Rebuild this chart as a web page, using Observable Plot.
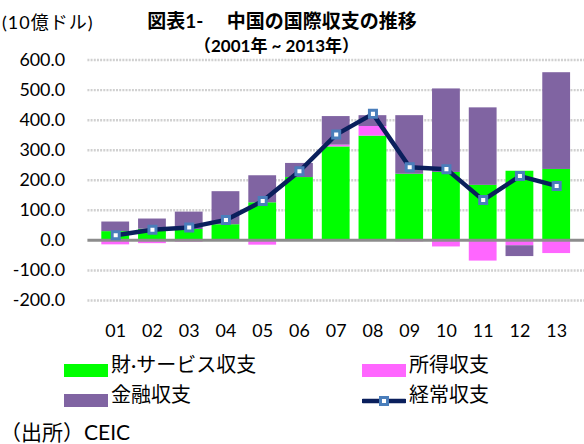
<!DOCTYPE html>
<html><head><meta charset="utf-8">
<script src="https://cdn.jsdelivr.net/npm/d3@7"></script>
<script src="https://cdn.jsdelivr.net/npm/@observablehq/plot@0.6"></script>
<style>
body{margin:0;width:584px;height:444px;overflow:hidden;position:relative;background:#fff;font-family:Lato,"Noto Sans CJK JP",sans-serif;color:#000}
.abs{position:absolute;white-space:nowrap;line-height:1}
</style></head><body>
<div id="chart" class="abs" style="left:0;top:0"></div>
<div class="abs" style="left:2px;top:13px;font-size:18px;letter-spacing:1px">(10億ドル)</div>
<div class="abs" style="left:0;width:564px;text-align:center;top:11px;font-size:19px;font-weight:bold">図表1- 　中国の国際収支の推移</div>
<div class="abs" style="left:0;width:553px;text-align:center;top:37px;font-size:17px;font-weight:bold">（2001年 ~ 2013年）</div>
<div id="legend"></div>
<div class="abs" style="left:0;top:421px;font-size:21px">（出所）CEIC</div>
<script>
const years = ["01","02","03","04","05","06","07","08","09","10","11","12","13"];
const goodsServices = [29, 37, 36, 52, 125, 209, 311, 347, 220, 226, 183, 230, 236];
const income = [-15, -11, -6, -3, -16, -3, 6, 32, -5, -22, -69, -18, -44];
const financial = [32, 34, 58, 110, 90, 47, 95, 36, 195, 278, 258, -36, 322];
const currentAccount = [17, 35, 43, 68, 131, 230, 352, 421, 243, 237, 134, 214, 181];
const seriesNames = ["財·サービス収支", "所得収支", "金融収支"];
const lineName = "経常収支";
const seriesColors = ["#00ff00", "#ff66ff", "#8064a2"];
const lineColor = "#0a1f5c";
const markerColor = "#4a7ebb";
const yTicks = [-200, -100, 0, 100, 200, 300, 400, 500, 600];

const rows = [];
[goodsServices, income, financial].forEach((arr, i) =>
  arr.forEach((v, j) => rows.push({year: years[j], type: seriesNames[i], value: v})));
const lineData = years.map((y, i) => ({year: y, value: currentAccount[i]}));

const chart = Plot.plot({
  width: 588, height: 345,
  marginTop: 60, marginBottom: 43, marginLeft: 88, marginRight: 0,
  style: {fontFamily: 'Lato, "Noto Sans CJK JP", sans-serif', fontSize: "18px", color: "#000", background: "transparent", overflow: "visible"},
  x: {domain: years, padding: 0.25, axis: null, label: null},
  y: {domain: [-200, 600], axis: null, label: null},
  color: {domain: seriesNames, range: seriesColors},
  marks: [
    Plot.gridY(yTicks.filter(d => d !== 0), {stroke: "#d0d0d0", strokeOpacity: 1, strokeWidth: 2.5, strokeDasharray: "2,1.2"}),
    Plot.barY(rows, {x: "year", y: "value", fill: "type"}),
    Plot.ruleY([0], {stroke: "#8c8c8c", strokeWidth: 3}),
    Plot.lineY(lineData, {x: "year", y: "value", stroke: lineColor, strokeWidth: 4.5}),
    Plot.dot(lineData, {x: "year", y: "value", symbol: "square", r: 4, fill: "#fff", stroke: markerColor, strokeWidth: 3}),
    Plot.axisY({ticks: yTicks, tickSize: 0, tickPadding: 23, tickFormat: d => d.toFixed(1), label: null}),
    Plot.axisX({tickSize: 0, tickPadding: 24, label: null})
  ]
});
document.getElementById("chart").append(chart);

// legend
const legendItems = [
  {label: seriesNames[0], color: seriesColors[0], kind: "rect", col: 0, row: 0},
  {label: seriesNames[1], color: seriesColors[1], kind: "rect", col: 1, row: 0},
  {label: seriesNames[2], color: seriesColors[2], kind: "rect", col: 0, row: 1},
  {label: lineName, color: lineColor, kind: "line", col: 1, row: 1}
];
const colX = [64, 362];
const rowY = [364, 394];
const leg = document.getElementById("legend");
legendItems.forEach(it => {
  const x = colX[it.col], y = rowY[it.row];
  const sw = document.createElementNS("http://www.w3.org/2000/svg", "svg");
  sw.setAttribute("width", 44); sw.setAttribute("height", 14);
  sw.style.position = "absolute"; sw.style.left = x + "px"; sw.style.top = y + "px";
  if (it.kind === "rect") {
    sw.innerHTML = `<rect x="0" y="0" width="44" height="13" fill="${it.color}"/>`;
  } else {
    sw.innerHTML = `<line x1="1" x2="43" y1="7" y2="7" stroke="${it.color}" stroke-width="4.5" stroke-linecap="round"/>` +
      `<rect x="18.5" y="3.5" width="7" height="7" fill="#fff" stroke="${markerColor}" stroke-width="3"/>`;
  }
  leg.append(sw);
  const t = document.createElement("div");
  t.className = "abs";
  t.style.left = (x + 47) + "px"; t.style.top = (y - 10) + "px"; t.style.fontSize = "20px";
  t.textContent = it.label;
  leg.append(t);
});
</script>
</body></html>
